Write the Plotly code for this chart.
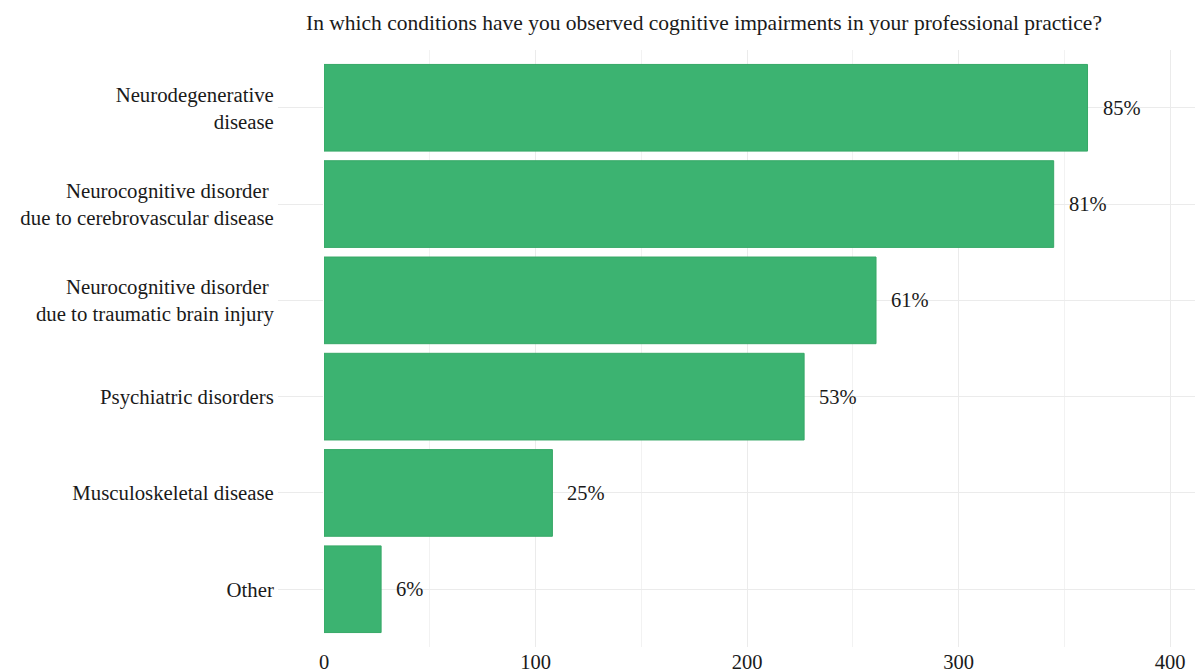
import plotly.graph_objects as go

categories = [
    "Neurodegenerative<br>disease",
    "Neurocognitive disorder <br>due to cerebrovascular disease",
    "Neurocognitive disorder <br>due to traumatic brain injury",
    "Psychiatric disorders",
    "Musculoskeletal disease",
    "Other",
]
counts = [361, 345, 261, 227, 108, 27]
percent_labels = ["85%", "81%", "61%", "53%", "25%", "6%"]
x_ticks = [0, 100, 200, 300, 400]

FONT = "Liberation Serif"
FS = 20.8
OFF = 8  # default page body margin

fig = go.Figure()
fig.add_trace(go.Bar(
    x=counts, y=categories, orientation="h",
    marker=dict(color="#3cb371", line=dict(color="#37a867", width=1)),
    width=0.9, hoverinfo="skip",
))

for c, v, t in zip(categories, counts, percent_labels):
    fig.add_annotation(x=v, y=c, text=t, showarrow=False, xanchor="left",
                       xshift=13, font=dict(family=FONT, size=20.5, color="#1a1a1a"))

W, H = 1203 - OFF, 671 - OFF
fig.update_layout(
    width=W, height=H,
    margin=dict(l=324 - OFF, r=0, t=50 - OFF, b=H - (647 - OFF)),
    plot_bgcolor="white", paper_bgcolor="white",
    showlegend=False,
    font=dict(family=FONT, size=FS, color="#1a1a1a"),
    title=dict(text="In which conditions have you observed cognitive impairments in your professional practice?",
               x=(704 - OFF) / W, xanchor="center", xref="container",
               y=1 - (22 - OFF) / H, yanchor="middle", yref="container",
               font=dict(family=FONT, size=21.5, color="#1a1a1a")),
    xaxis=dict(range=[0, 415.6], tickvals=x_ticks, ticktext=[str(v) for v in x_ticks],
               showgrid=True, gridcolor="#ebebeb", gridwidth=1,
               minor=dict(dtick=50, showgrid=True, gridcolor="#f2f2f2", gridwidth=1),
               zeroline=False, showline=False, ticks="", automargin=False,
               tickfont=dict(family=FONT, size=20.5, color="#1a1a1a")),
    yaxis=dict(categoryorder="array", categoryarray=categories,
               range=[5.6, -0.6], showgrid=True, gridcolor="#ebebeb", gridwidth=1,
               zeroline=False, showline=False, ticks="outside", ticklen=45,
               tickcolor="#ebebeb", tickwidth=1, automargin=False,
               tickfont=dict(family=FONT, size=FS, color="#1a1a1a")),
)

fig.write_html("out.html")
